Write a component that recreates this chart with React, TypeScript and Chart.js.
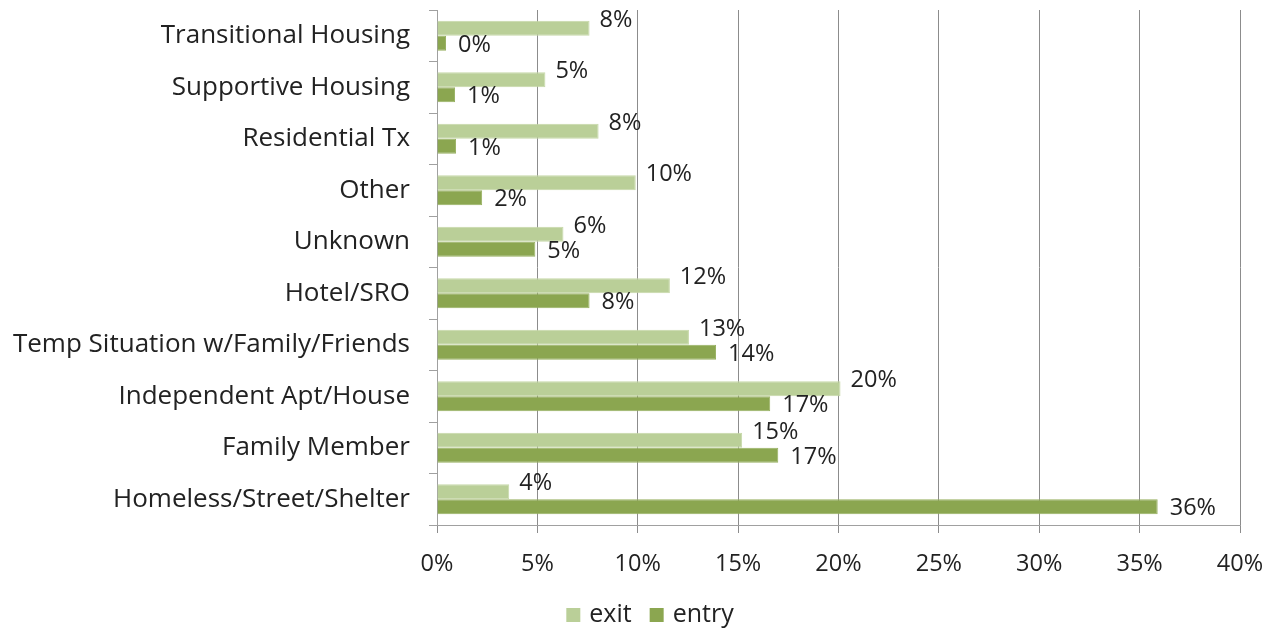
import React, { useEffect, useRef } from "react";
import { Chart, registerables } from "chart.js";

Chart.register(...registerables);

const categories = [
  "Transitional Housing",
  "Supportive Housing",
  "Residential Tx",
  "Other",
  "Unknown",
  "Hotel/SRO",
  "Temp Situation w/Family/Friends",
  "Independent Apt/House",
  "Family Member",
  "Homeless/Street/Shelter",
];
const seriesNames = ["exit", "entry"];
const exitValues = [7.6, 5.4, 8.05, 9.9, 6.3, 11.6, 12.55, 20.1, 15.2, 3.6];
const entryValues = [0.45, 0.9, 0.95, 2.25, 4.9, 7.6, 13.9, 16.6, 17.0, 35.9];
const xTicks = [0, 5, 10, 15, 20, 25, 30, 35, 40];

const FONT = "'Open Sans', sans-serif";
const CAT_SIZE = 26;
const NUM_SIZE = 23.5;
const LEG_SIZE = 25;
const COLORS = ["#BACF98", "#8BA650"];
const BORDERS = ["#C6D8A8", "#97B060"];

const labelPlugin = {
  id: "barLabels",
  afterDatasetsDraw(chart: any) {
    const ctx = chart.ctx;
    ctx.save();
    ctx.font = `${NUM_SIZE}px ${FONT}`;
    ctx.fillStyle = "#222";
    ctx.textBaseline = "middle";
    ctx.textAlign = "left";
    chart.data.datasets.forEach((ds: any, di: number) => {
      const meta = chart.getDatasetMeta(di);
      meta.data.forEach((el: any, i: number) => {
        const v = ds.data[i];
        const dy = di === 0 ? -8 : 2;
        const gap = di === 0 ? 10 : 12;
        ctx.fillText(Math.round(v) + "%", el.x + gap, el.y + dy);
      });
    });
    ctx.restore();
  },
};

const legendPlugin = {
  id: "customLegend",
  afterDraw(chart: any) {
    const ctx = chart.ctx;
    ctx.save();
    ctx.font = `${LEG_SIZE}px ${FONT}`;
    ctx.textBaseline = "middle";
    ctx.textAlign = "left";
    const box = 14;
    const gapBoxText = 9;
    const gapItems = 18;
    const items = chart.data.datasets.map((ds: any) => ({
      label: ds.label,
      color: ds.backgroundColor,
      w: ctx.measureText(ds.label).width,
    }));
    const total =
      items.reduce((s: number, it: any) => s + box + gapBoxText + it.w, 0) +
      gapItems * (items.length - 1);
    let x = 650 - total / 2;
    const cy = 615;
    items.forEach((it: any) => {
      ctx.fillStyle = it.color;
      ctx.fillRect(x, cy - box / 2, box, box);
      x += box + gapBoxText;
      ctx.fillStyle = "#222";
      ctx.fillText(it.label, x, cy);
      x += it.w + gapItems;
    });
    ctx.restore();
  },
};

export default function App() {
  const ref = useRef<HTMLCanvasElement>(null);
  useEffect(() => {
    document.body.style.margin = "0";
    const chart = new Chart(ref.current!, {
      type: "bar",
      data: {
        labels: categories,
        datasets: [
          {
            label: seriesNames[0],
            data: exitValues,
            backgroundColor: COLORS[0],
            borderColor: BORDERS[0],
            borderWidth: 1,
            categoryPercentage: 0.58,
            barPercentage: 1.0,
          },
          {
            label: seriesNames[1],
            data: entryValues,
            backgroundColor: COLORS[1],
            borderColor: BORDERS[1],
            borderWidth: 1,
            categoryPercentage: 0.58,
            barPercentage: 1.0,
          },
        ],
      },
      options: {
        indexAxis: "y",
        responsive: false,
        animation: false,
        layout: { padding: { top: 10, right: 36, left: 0, bottom: 43 } },
        plugins: {
          tooltip: { enabled: false },
          legend: { display: false },
        },
        scales: {
          x: {
            min: 0,
            max: 40,
            afterBuildTicks(scale: any) {
              scale.ticks = xTicks.map((v) => ({ value: v }));
            },
            afterFit(scale: any) {
              scale.height = 60;
              scale.paddingLeft = 0;
              scale.paddingRight = 0;
            },
            ticks: {
              callback: (v: any) => v + "%",
              font: { family: FONT, size: NUM_SIZE },
              color: "#222",
              padding: 17,
            },
            grid: { color: "#8c8c8c", tickLength: 8, lineWidth: 1 },
            border: { color: "#a0a0a0" },
          },
          y: {
            afterFit(scale: any) {
              scale.width = 437;
              scale.paddingTop = 0;
              scale.paddingBottom = 0;
            },
            ticks: {
              font: { family: FONT, size: CAT_SIZE },
              color: "#222",
              padding: 19,
            },
            grid: {
              drawOnChartArea: false,
              offset: true,
              tickLength: 8,
              color: "#a0a0a0",
            },
            border: { color: "#a0a0a0" },
          },
        },
      },
      plugins: [labelPlugin, legendPlugin],
    });
    return () => chart.destroy();
  }, []);
  return (
    <div style={{ width: 1276, height: 628 }}>
      <canvas ref={ref} width={1276} height={628} />
    </div>
  );
}
